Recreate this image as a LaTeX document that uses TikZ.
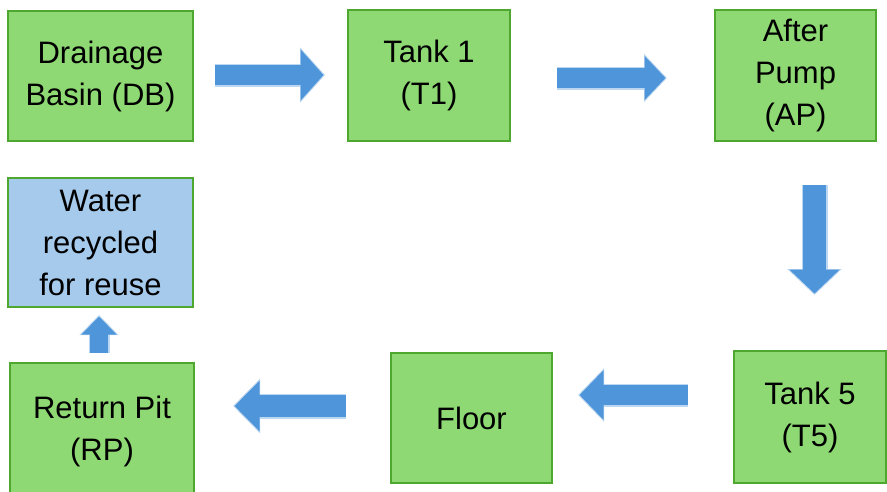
\documentclass[tikz,border=0pt]{standalone}
\usepackage{fontspec}
\setmainfont{Liberation Sans}
\usetikzlibrary{arrows.meta}
\definecolor{boxgreen}{HTML}{8ED973}
\definecolor{edgegreen}{HTML}{4EA72E}
\definecolor{boxblue}{HTML}{A6CAEC}
\definecolor{arrowblue}{HTML}{4E95D9}
\definecolor{glowblue}{HTML}{BCD7F1}
\tikzset{
  stagebox/.style={draw=edgegreen, line width=2pt, fill=boxgreen, align=center,
    anchor=north west, inner sep=0pt,
    font=\fontsize{31}{42}\selectfont},
  glowarrow/.style={line width=#1+3pt, draw=glowblue},
  flowarrow/.style={line width=#1, draw=arrowblue},
}
\newcommand{\blockarrow}[5]{% from, to, shaft, head length, head width
  \draw[line width=#3+3pt, glowblue, -{Triangle[length=#4+2pt,width=#5+4pt]}] (#1) -- (#2);
  \draw[line width=#3, arrowblue, shorten >=1.5pt, -{Triangle[length=#4,width=#5]}] (#1) -- (#2);
}
\begin{document}
\begin{tikzpicture}[x=1pt,y=-1pt]
\useasboundingbox (0,0) rectangle (887,491);
\fill[white] (0,0) rectangle (887,491);
\clip (0,0) rectangle (887,491);

\node[stagebox, minimum width=185pt, minimum height=130pt] (db) at (7,10) {Drainage\\Basin (DB)};
\node[stagebox, minimum width=162pt, minimum height=131pt] (t1) at (347,9) {Tank 1\\(T1)};
\node[stagebox, minimum width=161pt, minimum height=131pt] (ap) at (714,9) {After\\Pump\\(AP)};
\node[stagebox, fill=boxblue, minimum width=185pt, minimum height=129pt] (wr) at (7,177) {Water\\recycled\\for reuse};
\node[stagebox, minimum width=184pt, minimum height=136pt] (rp) at (9,362) {Return Pit\\(RP)};
\node[stagebox, minimum width=161pt, minimum height=130pt] (fl) at (390,352) {Floor};
\node[stagebox, minimum width=152pt, minimum height=132pt] (t5) at (733,350) {Tank 5\\(T5)};

\coordinate (a1s) at (215,75);   \coordinate (a1e) at (325,75);
\coordinate (a2s) at (557,78);   \coordinate (a2e) at (667,78);
\coordinate (a3s) at (814.5,185);\coordinate (a3e) at (814.5,295);
\coordinate (a4s) at (99,353);   \coordinate (a4e) at (99,315);
\coordinate (a5s) at (688,395);  \coordinate (a5e) at (578,395);
\coordinate (a6s) at (346,406);  \coordinate (a6e) at (233,406);

\blockarrow{a1s}{a1e}{20pt}{23pt}{50pt}
\blockarrow{a2s}{a2e}{20pt}{21pt}{43pt}
\blockarrow{a3s}{a3e}{23pt}{24pt}{49pt}
\blockarrow{a4s}{a4e}{18pt}{18pt}{34pt}
\blockarrow{a5s}{a5e}{20pt}{24pt}{48pt}
\blockarrow{a6s}{a6e}{22pt}{25pt}{49pt}
\end{tikzpicture}
\end{document}
